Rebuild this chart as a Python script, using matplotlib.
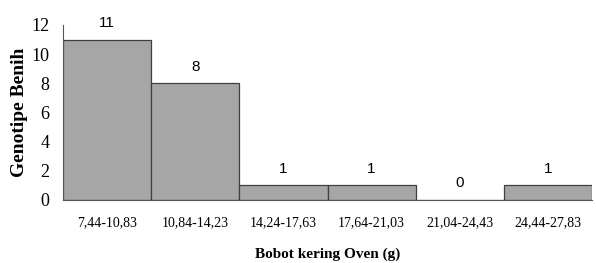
import matplotlib.pyplot as plt

# class intervals and frequencies
classes = ['7,44-10,83', '10,84-14,23', '14,24-17,63', '17,64-21,03', '21,04-24,43', '24,44-27,83']
counts = [11, 8, 1, 1, 0, 1]
yticks = [0, 2, 4, 6, 8, 10, 12]

def main():
    fig = plt.figure(figsize=(5.96, 2.63), dpi=100)
    ax = fig.add_axes([0.106, 0.24, 0.887, 0.665])

    x = range(len(classes))
    bars = ax.bar(x, counts, width=1.0, color='#a6a6a6', edgecolor='#3f3f3f', linewidth=0.9)

    # value labels above the bars
    for b, v in zip(bars, counts):
        ax.annotate(str(v), (b.get_x() + b.get_width() / 2, b.get_height()),
                    xytext=(0, 7), textcoords='offset points', ha='center', va='bottom',
                    fontsize=11, family='Liberation Sans')

    ax.set_xlim(-0.5, len(classes) - 0.5)
    ax.set_ylim(0, 12)
    ax.set_yticks(yticks)
    ax.set_xticks(list(x))
    ax.set_xticklabels(classes, family='Liberation Serif', fontsize=10)
    ax.set_yticklabels([str(t) for t in yticks], family='Liberation Serif', fontsize=13)
    ax.tick_params(axis='both', length=0)
    ax.tick_params(axis='x', pad=12)
    ax.tick_params(axis='y', pad=10)

    for s in ['top', 'right']:
        ax.spines[s].set_visible(False)
    ax.spines['left'].set_color('#555555')
    ax.spines['bottom'].set_color('#555555')

    ax.set_xlabel('Bobot kering Oven (g)', family='Liberation Serif', fontweight='bold',
                  fontsize=11, labelpad=13)
    ax.set_ylabel('Genotipe Benih', family='Liberation Serif', fontweight='bold',
                  fontsize=14, va='center')
    ax.yaxis.set_label_coords(-0.082, 0.5)

    fig.savefig('out.png', dpi=100)

if __name__ == '__main__':
    main()
